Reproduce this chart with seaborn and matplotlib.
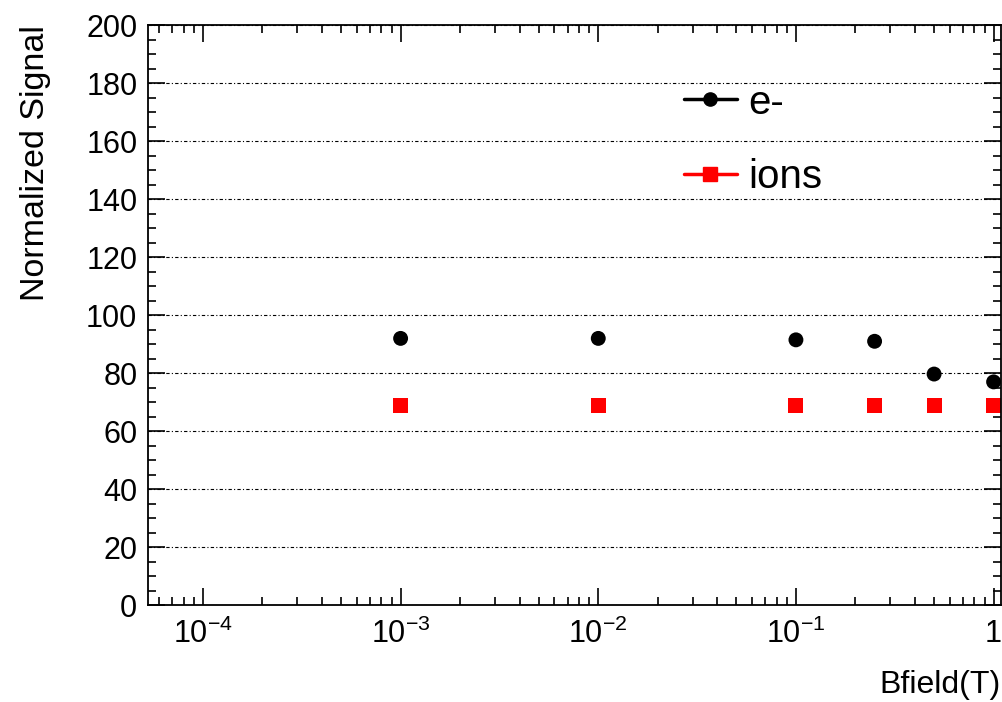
import pandas as pd
import seaborn as sns
import matplotlib.pyplot as plt
from matplotlib.lines import Line2D
from matplotlib.ticker import LogLocator, MultipleLocator, FixedLocator

sns.set_style("ticks")
plt.rcParams['font.family'] = ['Liberation Sans', 'DejaVu Sans']
plt.rcParams['mathtext.fontset'] = 'custom'
plt.rcParams['mathtext.rm'] = 'Liberation Sans'
plt.rcParams['mathtext.it'] = 'Liberation Sans'
plt.rcParams['text.color'] = 'black'
plt.rcParams['axes.labelcolor'] = 'black'
plt.rcParams['xtick.color'] = 'black'
plt.rcParams['ytick.color'] = 'black'

# data
bfield = [0.001, 0.01, 0.1, 0.25, 0.5, 1.0]
electrons = [92, 92, 91.5, 91, 79.7, 77]
ions = [68.8, 68.8, 68.8, 68.8, 68.8, 68.8]

df = pd.DataFrame({
    "Bfield": bfield * 2,
    "signal": electrons + ions,
    "species": ["e-"] * len(bfield) + ["ions"] * len(bfield),
})

fig = plt.figure(figsize=(10.03, 7.02), dpi=100)
ax = fig.add_axes([0.148, 0.138, 0.850, 0.826])

sns.scatterplot(data=df, x="Bfield", y="signal", hue="species", style="species",
                palette={"e-": "black", "ions": "red"},
                markers={"e-": "o", "ions": "s"}, s=115, linewidth=0,
                legend=False, ax=ax)

ax.set_xscale("log")
ax.set_xlim(5.3e-5, 1.09)
ax.set_ylim(0, 200)

ax.yaxis.set_major_locator(MultipleLocator(20))
ax.yaxis.set_minor_locator(MultipleLocator(5))
ax.xaxis.set_major_locator(FixedLocator([1e-4, 1e-3, 1e-2, 1e-1, 1]))
ax.xaxis.set_minor_locator(LogLocator(base=10, subs=range(2, 10), numticks=20))
ax.set_xticklabels([r"$10^{-4}$", r"$10^{-3}$", r"$10^{-2}$", r"$10^{-1}$", "1"])

ax.tick_params(which="both", direction="in", top=True, right=True,
               labelsize=22, width=1.2)
ax.tick_params(which="major", length=12, pad=8)
ax.tick_params(axis="x", which="major", pad=10)
ax.tick_params(which="minor", length=6)
for s in ax.spines.values():
    s.set_linewidth(1.3)
    s.set_color("black")

ax.yaxis.grid(True, which="major", color="black", linestyle=(0, (3, 2, 1, 2)),
              linewidth=0.8)
ax.set_axisbelow(True)

ax.set_xlabel("Bfield(T)", fontsize=23, loc="right", labelpad=14)
ax.set_ylabel("Normalized Signal", fontsize=24.5, loc="top", labelpad=25)

handles = [
    Line2D([0], [0], color="black", marker="o", markersize=9.5, linewidth=2.5),
    Line2D([0], [0], color="red", marker="s", markersize=9.5, linewidth=2.5),
]
ax.legend(handles, ["e-", "ions"], loc="upper left", bbox_to_anchor=(0.586, 0.962),
          frameon=False, fontsize=29, handlelength=1.3, handletextpad=0.3,
          labelspacing=0.9)

fig.savefig("out.png", dpi=100)
